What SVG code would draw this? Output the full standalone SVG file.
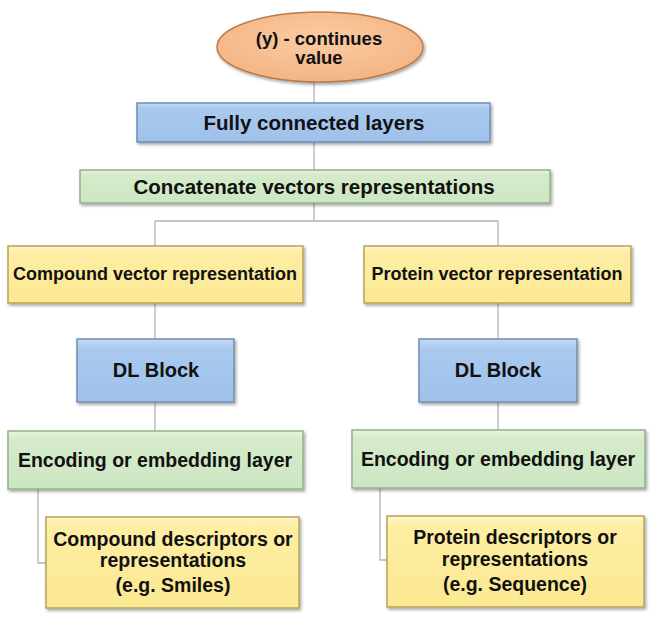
<svg xmlns="http://www.w3.org/2000/svg" width="661" height="622" viewBox="0 0 661 622">
<defs>
<linearGradient id="gBlue" x1="0" y1="0" x2="0" y2="1"><stop offset="0" stop-color="#c3dbf5"/><stop offset="0.15" stop-color="#a9c9ee"/><stop offset="1" stop-color="#9fc1ea"/></linearGradient>
<linearGradient id="gGreen" x1="0" y1="0" x2="0" y2="1"><stop offset="0" stop-color="#e6f4df"/><stop offset="0.15" stop-color="#d5ebcb"/><stop offset="1" stop-color="#cde6c2"/></linearGradient>
<linearGradient id="gYellow" x1="0" y1="0" x2="0" y2="1"><stop offset="0" stop-color="#fff5c4"/><stop offset="0.12" stop-color="#fdeea3"/><stop offset="1" stop-color="#fbe892"/></linearGradient>
<radialGradient id="gOrange" cx="0.5" cy="0.4" r="0.6"><stop offset="0" stop-color="#fbcca3"/><stop offset="1" stop-color="#f5b483"/></radialGradient>
<filter id="sh" x="-10%" y="-20%" width="120%" height="150%"><feDropShadow dx="1.5" dy="2" stdDeviation="1.5" flood-color="#000" flood-opacity="0.35"/></filter>
</defs>
<style>
.conn{fill:none;stroke:#b4b4b4;stroke-width:1.3}
.blue{fill:url(#gBlue);stroke:#6f8fb5;stroke-width:1.5;filter:url(#sh)}
.green{fill:url(#gGreen);stroke:#93b285;stroke-width:1.5;filter:url(#sh)}
.yellow{fill:url(#gYellow);stroke:#b9a35c;stroke-width:1.5;filter:url(#sh)}
.orange{fill:url(#gOrange);stroke:#b77b4c;stroke-width:1.5;filter:url(#sh)}
text{font-family:"Liberation Sans",Arial,sans-serif;font-weight:bold;fill:#111;text-anchor:middle}
.c{dominant-baseline:central}
</style>
<rect width="661" height="622" fill="#fff"/>
<g id="connectors">
<path class="conn" d="M314 82V103"/>
<path class="conn" d="M314 142V170"/>
<path class="conn" d="M314 203V221M155 246V221H498V246"/>
<path class="conn" d="M155 303V339M155 402V431"/>
<path class="conn" d="M498 303V339M498 402V430"/>
<path class="conn" d="M38 489V563H46"/>
<path class="conn" d="M380 488V560H387"/>
</g>
<g id="target">
<ellipse class="orange" cx="320" cy="47" rx="103" ry="35"/>
<text x="319" y="45" style="font-size:18.5px">(y) - continues</text>
<text x="319" y="64" style="font-size:18.5px">value</text>
</g>
<g id="fc">
<rect class="blue" x="137" y="103" width="353" height="39"/>
<text class="c" x="314" y="122" style="font-size:20.5px">Fully connected layers</text>
</g>
<g id="concat">
<rect class="green" x="80" y="170" width="470" height="33"/>
<text class="c" x="314" y="186" style="font-size:20.5px">Concatenate vectors representations</text>
</g>
<g id="compound-vec">
<rect class="yellow" x="8" y="246" width="295" height="57"/>
<text class="c" x="155" y="274" style="font-size:18px">Compound vector representation</text>
</g>
<g id="protein-vec">
<rect class="yellow" x="364" y="246" width="267" height="57"/>
<text class="c" x="497" y="274" style="font-size:18px">Protein vector representation</text>
</g>
<g id="dl-left">
<rect class="blue" x="77" y="339" width="157" height="63"/>
<text class="c" x="156" y="370" style="font-size:20px">DL Block</text>
</g>
<g id="dl-right">
<rect class="blue" x="419" y="339" width="158" height="63"/>
<text class="c" x="498" y="370" style="font-size:20px">DL Block</text>
</g>
<g id="enc-left">
<rect class="green" x="8" y="431" width="295" height="58"/>
<text class="c" x="155" y="460" style="font-size:19.5px">Encoding or embedding layer</text>
</g>
<g id="enc-right">
<rect class="green" x="352" y="430" width="293" height="58"/>
<text class="c" x="498" y="459" style="font-size:19.5px">Encoding or embedding layer</text>
</g>
<g id="compound-desc">
<rect class="yellow" x="46" y="517" width="253" height="91"/>
<text x="173" y="546" style="font-size:19.5px">Compound descriptors or</text>
<text x="173" y="567" style="font-size:19.5px">representations</text>
<text x="173" y="592" style="font-size:19.5px">(e.g. Smiles)</text>
</g>
<g id="protein-desc">
<rect class="yellow" x="387" y="516" width="257" height="91"/>
<text x="515" y="544" style="font-size:19.5px">Protein descriptors or</text>
<text x="515" y="566" style="font-size:19.5px">representations</text>
<text x="515" y="591" style="font-size:19.5px">(e.g. Sequence)</text>
</g>
</svg>
